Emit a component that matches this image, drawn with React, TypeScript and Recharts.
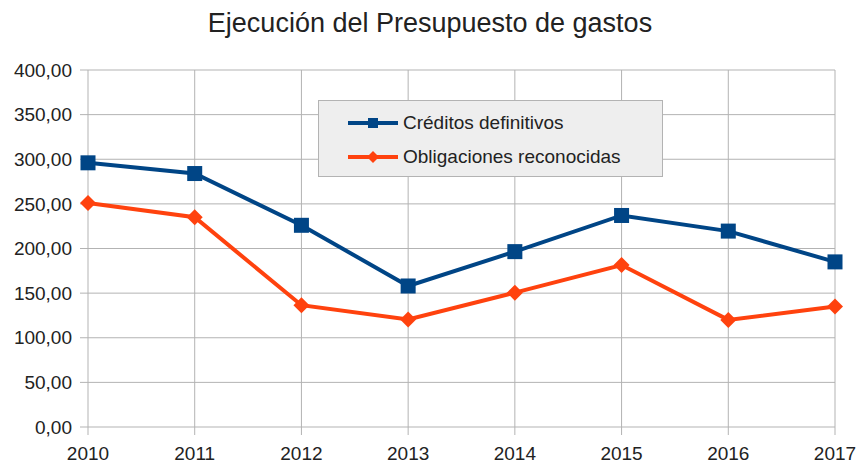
import React from 'react';
import { LineChart, Line, XAxis, YAxis, CartesianGrid, Legend } from 'recharts';

const years = ['2010', '2011', '2012', '2013', '2014', '2015', '2016', '2017'];
const creditos = [296, 284, 226, 158, 196.5, 237, 219.5, 185];
const obligaciones = [251, 235, 136.5, 120.5, 150.5, 181.5, 120, 135];
const yTicks = [0, 50, 100, 150, 200, 250, 300, 350, 400];

const seriesNames = { c: 'Créditos definitivos', o: 'Obligaciones reconocidas' };
const BLUE = '#004586';
const ORANGE = '#ff420e';
const FONT = '"Liberation Sans", Arial, sans-serif';

const data = years.map((y, i) => ({ year: y, c: creditos[i], o: obligaciones[i] }));

const fmt = (v: number) => v.toFixed(2).replace('.', ',');

const SquareDot = (props: any) => {
  const { cx, cy } = props;
  if (cx == null || cy == null) return null;
  const s = 15;
  return <rect x={cx - s / 2} y={cy - s / 2} width={s} height={s} fill={BLUE} />;
};

const DiamondDot = (props: any) => {
  const { cx, cy } = props;
  if (cx == null || cy == null) return null;
  const r = 8;
  return <polygon points={`${cx},${cy - r} ${cx + r},${cy} ${cx},${cy + r} ${cx - r},${cy}`} fill={ORANGE} />;
};

const LegendContent = () => {
  const row = (key: 'c' | 'o') => (
    <div style={{ display: 'flex', alignItems: 'center', height: 34 }}>
      <svg width={52} height={16} style={{ display: 'block' }}>
        <line x1={1} y1={8} x2={51} y2={8} stroke={key === 'c' ? BLUE : ORANGE} strokeWidth={4} />
        {key === 'c' ? (
          <rect x={21} y={3} width={10} height={10} fill={BLUE} />
        ) : (
          <polygon points="26,2 32,8 26,14 20,8" fill={ORANGE} />
        )}
      </svg>
      <span style={{ marginLeft: 4, fontSize: 19, fontFamily: FONT, color: '#222', whiteSpace: 'nowrap' }}>
        {seriesNames[key]}
      </span>
    </div>
  );
  return (
    <div
      style={{
        width: 345,
        height: 77,
        background: '#eeeeee',
        border: '1px solid #b3b3b3',
        boxSizing: 'border-box',
        paddingLeft: 28,
        paddingTop: 5,
      }}
    >
      {row('c')}
      {row('o')}
    </div>
  );
};

export default function App() {
  return (
    <div style={{ position: 'absolute', left: 0, top: 0, width: 860, height: 464, background: '#fff' }}>
      <div
        style={{
          position: 'absolute',
          left: 0,
          top: 7,
          width: 860,
          textAlign: 'center',
          fontFamily: FONT,
          fontSize: 27,
          color: '#222',
          lineHeight: '32px',
        }}
      >
        Ejecución del Presupuesto de gastos
      </div>
      <LineChart width={860} height={464} data={data} margin={{ top: 70, right: 25, bottom: 7, left: 0 }}>
        <CartesianGrid stroke="#b3b3b3" strokeWidth={1} />
        <XAxis
          dataKey="year"
          height={30}
          axisLine={false}
          tickLine={{ stroke: '#b3b3b3' }}
          tickSize={8}
          tickMargin={12}
          interval={0}
          tick={{ fill: '#222', fontSize: 19, fontFamily: FONT }}
        />
        <YAxis
          width={88}
          domain={[0, 400]}
          ticks={yTicks}
          tickFormatter={fmt}
          axisLine={false}
          tickLine={{ stroke: '#b3b3b3' }}
          tickSize={8}
          tickMargin={8}
          interval={0}
          tick={{ fill: '#222', fontSize: 19, fontFamily: FONT }}
        />
        <Legend
          content={<LegendContent />}
          layout="horizontal"
          verticalAlign="top"
          wrapperStyle={{ left: 318, top: 100, width: 0, height: 0, overflow: 'visible' }}
        />
        <Line
          dataKey="c"
          name={seriesNames.c}
          stroke={BLUE}
          strokeWidth={4}
          dot={<SquareDot />}
          activeDot={false}
          isAnimationActive={false}
        />
        <Line
          dataKey="o"
          name={seriesNames.o}
          stroke={ORANGE}
          strokeWidth={4}
          dot={<DiamondDot />}
          activeDot={false}
          isAnimationActive={false}
        />
      </LineChart>
    </div>
  );
}
